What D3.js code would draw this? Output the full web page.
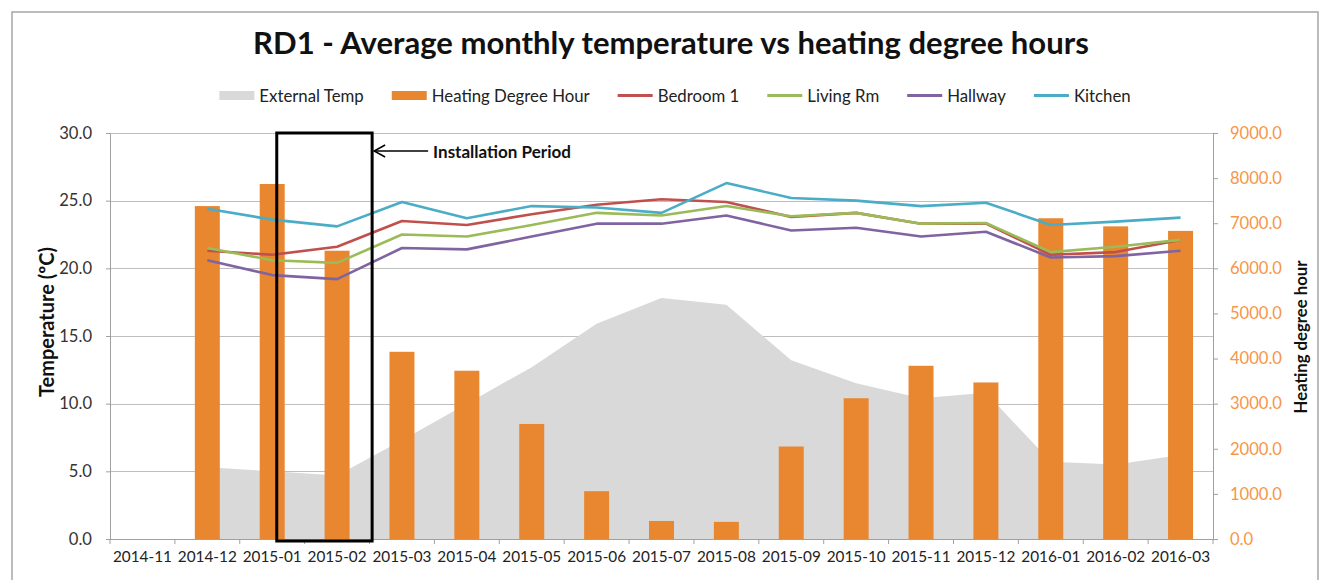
<!DOCTYPE html>
<html><head><meta charset="utf-8">
<script src="https://cdn.jsdelivr.net/npm/d3@7"></script>
<style>
body{margin:0;background:#fff;}
svg{display:block;font-family:Lato,"Open Sans","DejaVu Sans",sans-serif;}
</style>
</head><body>
<svg id="chart" width="1322" height="580"></svg>
<script>
// ---------- DATA ----------
const months = ["2014-11","2014-12","2015-01","2015-02","2015-03","2015-04","2015-05","2015-06",
  "2015-07","2015-08","2015-09","2015-10","2015-11","2015-12","2016-01","2016-02","2016-03"];
const heatingDegreeHours = [null,7380,7870,6390,4150,3730,2550,1060,400,380,2050,3120,3840,3470,7110,6930,6830];
const externalTemp = [null,5.3,5.0,4.7,7.3,10.0,12.7,15.9,17.8,17.3,13.2,11.5,10.4,10.8,5.7,5.5,6.2];
const bedroom1 = [null,21.3,21.0,21.6,23.5,23.2,24.0,24.7,25.1,24.9,23.8,24.1,23.3,23.3,21.0,21.2,22.1];
const livingRm = [null,21.5,20.6,20.4,22.5,22.35,23.2,24.1,23.9,24.6,23.85,24.1,23.3,23.35,21.2,21.6,22.1];
const hallway  = [null,20.6,19.5,19.2,21.5,21.4,22.35,23.3,23.3,23.9,22.8,23.0,22.35,22.7,20.8,20.9,21.3];
const kitchen  = [null,24.4,23.6,23.1,24.9,23.7,24.6,24.5,24.1,26.3,25.2,25.0,24.6,24.85,23.2,23.45,23.75];
const tempTicks = [0,5,10,15,20,25,30];
const hdhTicks = [0,1000,2000,3000,4000,5000,6000,7000,8000,9000];
const seriesNames = ["External Temp","Heating Degree Hour","Bedroom 1","Living Rm","Hallway","Kitchen"];
const titleText = "RD1 - Average monthly temperature vs heating degree hours";
const leftAxisTitle = "Temperature (ºC)";
const rightAxisTitle = "Heating degree hour";
const annotationText = "Installation Period";
const installStart = "2015-01", installEnd = "2015-02";

// ---------- LAYOUT ----------
const colors = {ext:"#D9D9D9", hdh:"#E8872F", bed:"#C0504D", liv:"#9BBB59", hall:"#8064A2", kit:"#4BACC6"};
const m = {left:110, right:1213, top:133, bottom:539};
const svg = d3.select("#chart");

function fitFont(sel, target, size){
  sel.style("font-size", size+"px");
  const w = sel.node().getComputedTextLength();
  const s = size*target/w;
  sel.style("font-size", s.toFixed(2)+"px");
  return s;
}

svg.append("rect").attr("x",12).attr("y",12).attr("width",1306).attr("height",620)
  .attr("fill","#fff").attr("stroke","#A6A6A6").attr("stroke-width",1.5);

const x = d3.scaleBand().domain(months).range([m.left,m.right]).padding(0);
const yT = d3.scaleLinear().domain([0,30]).range([m.bottom,m.top]);
const yH = d3.scaleLinear().domain([0,9000]).range([m.bottom,m.top]);
const cx = d => x(d) + x.bandwidth()/2;

// gridlines
svg.append("g").selectAll("line").data(tempTicks.filter(d=>d>0)).join("line")
  .attr("x1",m.left).attr("x2",m.right)
  .attr("y1",d=>Math.round(yT(d))+0.5).attr("y2",d=>Math.round(yT(d))+0.5)
  .attr("stroke","#BFBFBF").attr("stroke-width",1);

// external temp area
const extData = months.map((mo,i)=>({m:mo, v:externalTemp[i]}));
svg.append("path").datum(extData)
  .attr("d", d3.area().defined(d=>d.v!=null).x(d=>cx(d.m)).y0(yT(0)).y1(d=>yT(d.v)))
  .attr("fill",colors.ext);

// heating degree hour bars
const bw = x.bandwidth()*0.385;
svg.append("g").selectAll("rect")
  .data(months.map((mo,i)=>({m:mo, v:heatingDegreeHours[i]})).filter(d=>d.v!=null))
  .join("rect")
  .attr("x",d=>cx(d.m)-bw/2).attr("width",bw)
  .attr("y",d=>yH(d.v)).attr("height",d=>yH(0)-yH(d.v))
  .attr("fill",colors.hdh);

// temperature lines
const lineSeries = [
  {values:bedroom1, color:colors.bed},
  {values:livingRm, color:colors.liv},
  {values:hallway, color:colors.hall},
  {values:kitchen, color:colors.kit}
];
const line = d3.line().defined(d=>d.v!=null).x(d=>cx(d.m)).y(d=>yT(d.v));
lineSeries.forEach(s=>{
  svg.append("path").datum(months.map((mo,i)=>({m:mo, v:s.values[i]})))
    .attr("d",line).attr("fill","none").attr("stroke",s.color)
    .attr("stroke-width",2.6).attr("stroke-linejoin","round");
});

// axes
const axisColor = "#A0A0A0";
const gR = svg.append("g").attr("transform",`translate(${m.right},0)`)
  .call(d3.axisRight(yH).tickValues(hdhTicks).tickFormat(d3.format(".1f")).tickSize(5).tickSizeOuter(0).tickPadding(12));
gR.selectAll("text").attr("fill","#F79646").style("font-family","Lato");
const tickFs = fitFont(gR.selectAll("text").filter(d=>d===9000), 52, 15);
gR.selectAll("text").style("font-size",tickFs.toFixed(2)+"px");

const gL = svg.append("g").attr("transform",`translate(${m.left},0)`)
  .call(d3.axisLeft(yT).tickValues(tempTicks).tickFormat(d3.format(".1f")).tickSize(4).tickSizeOuter(0).tickPadding(14));
gL.selectAll("text").attr("fill","#333").style("font-family","Lato").style("font-size",tickFs.toFixed(2)+"px");

const gB = svg.append("g").attr("transform",`translate(0,${m.bottom})`)
  .call(d3.axisBottom(x).tickSize(0).tickSizeOuter(0).tickPadding(12));
gB.selectAll("text").attr("fill","#222").style("font-family","Lato");
const xFs = fitFont(gB.selectAll("text").filter(d=>d===months[0]), 59, 15);
gB.selectAll("text").style("font-size",xFs.toFixed(2)+"px");
gB.select(".domain").remove();
// category boundary ticks
gB.selectAll(".bt").data(months.concat(["__end"])).join("line").attr("class","bt")
  .attr("x1",d=> d==="__end" ? m.right : x(d)).attr("x2",d=> d==="__end" ? m.right : x(d))
  .attr("y1",0).attr("y2",5).attr("stroke",axisColor);
gB.append("line").attr("x1",m.left).attr("x2",m.right).attr("y1",0.5).attr("y2",0.5).attr("stroke",axisColor);
[gL,gR].forEach(g=>{ g.select(".domain").attr("stroke",axisColor); g.selectAll(".tick line").attr("stroke",axisColor); });

// axis titles
const lt = svg.append("text").text(leftAxisTitle).attr("font-weight","bold").attr("text-anchor","middle")
  .attr("transform","translate(46,322) rotate(-90)").attr("dominant-baseline","central").attr("fill","#111");
fitFont(lt,150,15);
const rt = svg.append("text").text(rightAxisTitle).attr("font-weight","bold").attr("text-anchor","middle")
  .attr("transform","translate(1300,337) rotate(-90)").attr("dominant-baseline","central").attr("fill","#111");
fitFont(rt,153,15);

// title
const tt = svg.append("text").text(titleText).attr("x",671).attr("y",54).attr("text-anchor","middle")
  .attr("font-weight","bold").attr("fill","#111");
fitFont(tt,836,28);

// legend
const legendTypes = ["rect","rect","line","line","line","line"];
const legendColors = [colors.ext,colors.hdh,colors.bed,colors.liv,colors.hall,colors.kit];
const lg = svg.append("g");
const items = seriesNames.map((n,i)=>{
  const g = lg.append("g");
  const t = g.append("text").text(n).attr("x",40).attr("y",95.5).attr("dominant-baseline","central").attr("fill","#222");
  return {g,t,i};
});
const probe = items[1].t; probe.style("font-size","16px");
const fs = 16*158/probe.node().getComputedTextLength();
items.forEach(it=>it.t.style("font-size",fs.toFixed(2)+"px"));
let widths = items.map(it=>40+it.t.node().getComputedTextLength());
const gap = 28;
const total = d3.sum(widths)+gap*(widths.length-1);
let cur = 675 - total/2;
items.forEach((it,k)=>{
  it.g.attr("transform",`translate(${cur},0)`);
  if(legendTypes[k]==="rect"){
    it.g.append("rect").attr("x",0).attr("y",91).attr("width",35).attr("height",9).attr("fill",legendColors[k]);
  } else {
    it.g.append("line").attr("x1",0).attr("x2",35).attr("y1",95.5).attr("y2",95.5).attr("stroke",legendColors[k]).attr("stroke-width",3);
  }
  cur += widths[k]+gap;
});

// installation period box + arrow
const bx0 = x(installStart)+x.bandwidth()*0.57, bx1 = x(installEnd)+x.bandwidth()*1.04;
svg.append("rect").attr("x",bx0).attr("y",yT(30)).attr("width",bx1-bx0).attr("height",yT(0)-yT(30)+2)
  .attr("fill","none").attr("stroke","#000").attr("stroke-width",3);
const ay = 151;
svg.append("line").attr("x1",bx1+2).attr("x2",bx1+56).attr("y1",ay).attr("y2",ay).attr("stroke","#000").attr("stroke-width",1.5);
svg.append("path").attr("d",`M${bx1+13},${ay-6}L${bx1+2},${ay}L${bx1+13},${ay+6}`).attr("fill","none").attr("stroke","#000").attr("stroke-width",1.5);
const at = svg.append("text").text(annotationText).attr("x",bx1+61).attr("y",ay).attr("dominant-baseline","central")
  .attr("font-weight","bold").attr("fill","#111");
fitFont(at,138,14);
</script>
</body></html>
